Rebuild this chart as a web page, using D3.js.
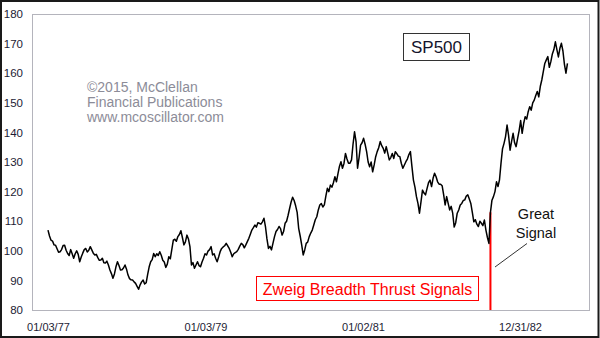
<!DOCTYPE html>
<html>
<head>
<meta charset="utf-8">
<script src="https://cdnjs.cloudflare.com/ajax/libs/d3/7.8.5/d3.min.js"></script>
<style>
  html, body { margin: 0; padding: 0; background: #fff; }
  svg { display: block; font-family: "Liberation Sans", Arial, sans-serif; }
</style>
</head>
<body>
<svg id="chart" width="600" height="338"></svg>
<script>
// S&P 500 weekly closes, one array per calendar year (first week: 01/03/77)
const seriesStart = "1977-01-03";
const sp1977 = [107.0,105.0,103.6,103.3,102.0,101.9,100.7,99.5,99.7,100.4,101.8,101.9,100.2,99.1,98.4,100.4,99.0,97.5,99.0,100.0,98.8,96.3,97.9,99.2,100.4,100.8,99.6,100.2,101.4,100.3,99.2,98.6,98.8,97.7,96.8,96.9,97.5,96.0,95.9,96.5,95.2,93.5,92.3,90.7,92.2,94.6,96.3,95.0,93.5,93.6,94.2,95.2];
const sp1978 = [93.8,91.8,90.6,90.2,90.1,89.5,89.0,88.0,87.0,88.5,89.5,90.1,88.8,89.2,92.0,94.6,96.3,97.0,99.1,98.0,99.0,98.4,99.7,98.5,96.8,96.2,94.4,95.5,98.0,97.3,100.5,103.6,103.9,103.2,104.8,105.5,106.8,104.5,102.0,103.0,105.3,104.0,101.4,95.2,96.0,94.1,95.2,96.3,95.0,94.6,96.2,97.5];
const sp1979 = [99.0,98.6,99.9,100.4,101.4,98.6,99.0,97.5,96.3,97.9,99.7,100.8,101.3,101.7,102.5,101.7,100.8,99.5,98.0,99.0,99.4,99.7,100.5,101.6,102.5,102.1,101.0,102.0,103.1,104.2,105.6,107.0,107.8,108.7,108.0,109.5,109.3,109.0,109.8,111.0,108.2,104.0,100.8,101.5,100.3,102.6,104.8,106.5,107.2,108.2,107.5,105.3];
const sp1980 = [106.5,109.3,110.0,112.0,114.3,116.5,118.1,117.0,115.2,113.0,107.6,105.0,102.0,98.6,100.3,102.5,103.0,104.8,106.0,107.0,108.7,110.5,111.5,113.8,115.5,116.0,114.8,115.5,118.5,121.1,120.0,122.2,121.5,123.0,125.0,123.3,126.0,128.5,130.1,127.9,129.5,132.9,131.0,129.6,129.6,130.7,136.0,140.2,136.9,127.9,131.5,135.7];
const sp1981 = [136.5,138.0,136.0,133.5,130.0,128.4,130.0,126.7,129.0,131.8,133.5,134.8,136.9,135.5,134.6,133.0,135.2,133.0,130.7,131.5,132.9,131.2,133.5,132.8,132.0,131.8,129.5,127.9,129.0,130.1,131.0,132.5,133.5,128.5,123.9,121.5,118.3,116.0,112.7,116.5,120.5,119.5,118.9,121.0,123.0,123.9,121.7,124.5,126.2,125.0,123.3,122.5,122.5];
const sp1982 = [122.0,119.0,115.5,118.3,116.0,113.8,115.0,112.7,108.0,109.5,112.7,113.8,115.5,116.0,117.0,117.2,118.5,118.9,117.5,116.0,113.0,109.8,110.5,109.0,108.2,110.0,109.3,108.5,110.4,107.0,104.5,102.5,113.0,117.1,118.3,120.0,123.3,121.7,124.0,129.6,134.5,136.3,138.6,142.5,139.0,134.0,137.0,139.7,136.5,135.2,138.0,140.6];
const sp1983 = [144.0,139.7,143.0,145.3,144.5,147.0,148.7,147.5,150.0,150.9,152.5,153.8,152.0,155.5,157.7,160.5,163.3,164.5,165.6,162.0,163.9,166.5,168.0,170.6,168.0,165.5,168.4,170.1,167.5,163.0,160.0,163.3];

// Axis ticks
const yTicks = [80, 90, 100, 110, 120, 130, 140, 150, 160, 170, 180];
const xTickDates = ["1977-01-03", "1979-01-03", "1981-01-02", "1982-12-31"];
const xTickLabels = ["01/03/77", "01/03/79", "01/02/81", "12/31/82"];

// Breadth thrust signal week
const signalDate = "1982-08-16";

const parse = d3.timeParse("%Y-%m-%d");
const start = parse(seriesStart);
const closes = [].concat(sp1977, sp1978, sp1979, sp1980, sp1981, sp1982, sp1983);
const data = closes.map((v, i) => ({ date: d3.timeDay.offset(start, 7 * i), value: v }));

const svg = d3.select("#chart");
const W = 600, H = 338;
const plot = { left: 32, top: 14, right: 589, bottom: 310 };

const x = d3.scaleTime()
  .domain([parse(xTickDates[0]), parse(xTickDates[3])])
  .range([48, 520]);
const y = d3.scaleLinear().domain([80, 180]).range([plot.bottom, plot.top]);

// page background and outer border
svg.append("rect").attr("x", 0).attr("y", 0).attr("width", W).attr("height", H).attr("fill", "#fff");
svg.append("rect").attr("x", 1).attr("y", 1).attr("width", W - 2.5).attr("height", H - 2)
  .attr("fill", "none").attr("stroke", "#1a1a1a").attr("stroke-width", 2);

// plot frame
svg.append("rect")
  .attr("x", plot.left + 0.5).attr("y", plot.top + 0.5)
  .attr("width", plot.right - plot.left).attr("height", plot.bottom - plot.top)
  .attr("fill", "#fff").attr("stroke", "#b4b4bc").attr("stroke-width", 1);

// y axis
const yAxis = svg.append("g")
  .attr("transform", `translate(${plot.left},0)`)
  .call(d3.axisLeft(y).tickValues(yTicks).tickSize(0).tickPadding(9).tickFormat(d3.format("d")));
yAxis.select(".domain").remove();
yAxis.selectAll("text")
  .attr("font-family", "Liberation Sans, Arial, sans-serif")
  .attr("font-size", 11.5).attr("fill", "#1c1c34");

// x axis
const xAxis = svg.append("g")
  .attr("transform", `translate(0,${plot.bottom})`)
  .call(d3.axisBottom(x).tickValues(xTickDates.map(parse)).tickSize(0).tickPadding(13)
    .tickFormat((d, i) => xTickLabels[i]));
xAxis.select(".domain").remove();
xAxis.selectAll("text")
  .attr("font-family", "Liberation Sans, Arial, sans-serif")
  .attr("font-size", 11).attr("fill", "#1c1c34");

// copyright block
const credit = ["\u00A92015, McClellan", "Financial Publications", "www.mcoscillator.com"];
svg.append("g").selectAll("text").data(credit).join("text")
  .attr("x", 87).attr("y", (d, i) => 91.5 + i * 15.4)
  .attr("font-size", 14).attr("fill", "#8c8c98")
  .text(d => d);

// signal marker (from axis floor up to the close on the signal week)
const sig = data.find(d => +d.date === +parse(signalDate));
svg.append("line")
  .attr("x1", x(sig.date)).attr("x2", x(sig.date))
  .attr("y1", y(80)).attr("y2", y(sig.value))
  .attr("stroke", "#ff0000").attr("stroke-width", 2);

// price line
const line = d3.line().x(d => x(d.date)).y(d => y(d.value));
svg.append("path").datum(data)
  .attr("d", line)
  .attr("fill", "none").attr("stroke", "#000").attr("stroke-width", 1.5)
  .attr("stroke-linejoin", "round");

// series label box
const lg = svg.append("g");
lg.append("rect").attr("x", 403.5).attr("y", 33.5).attr("width", 66).attr("height", 27)
  .attr("fill", "#fff").attr("stroke", "#333").attr("stroke-width", 1);
lg.append("text").attr("x", 436.5).attr("y", 53).attr("text-anchor", "middle")
  .attr("font-size", 17).attr("fill", "#14142c").text("SP500");

// signal caption
const zg = svg.append("g");
zg.append("rect").attr("x", 256.5).attr("y", 276.5).attr("width", 222).attr("height", 24)
  .attr("fill", "#fff").attr("stroke", "#ff0000").attr("stroke-width", 1);
zg.append("text").attr("x", 367.5).attr("y", 295).attr("text-anchor", "middle")
  .attr("font-size", 16).attr("fill", "#ff0000").text("Zweig Breadth Thrust Signals");

// "Great Signal" callout
const ann = svg.append("g");
ann.append("text").attr("x", 536).attr("y", 219).attr("text-anchor", "middle")
  .attr("font-size", 14.5).attr("fill", "#111").text("Great");
ann.append("text").attr("x", 536).attr("y", 238).attr("text-anchor", "middle")
  .attr("font-size", 14.5).attr("fill", "#111").text("Signal");
ann.append("line").attr("x1", 527).attr("y1", 243.5).attr("x2", 495).attr("y2", 267)
  .attr("stroke", "#333").attr("stroke-width", 1);
</script>
</body>
</html>
